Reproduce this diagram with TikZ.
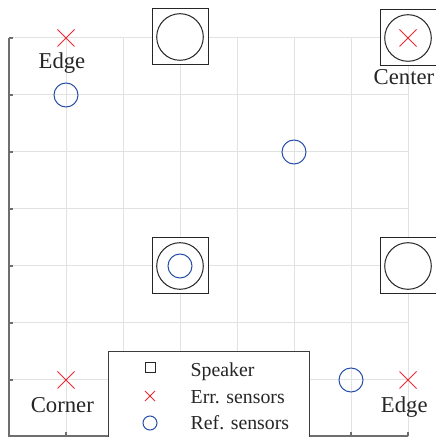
\documentclass[tikz,border=0pt]{standalone}
\usepackage{fontspec}
\setmainfont{Liberation Serif}
\definecolor{gridc}{RGB}{226,226,226}
\definecolor{axc}{RGB}{110,110,110}
\definecolor{errc}{RGB}{240,40,50}
\definecolor{refc}{RGB}{40,80,170}
\definecolor{spkc}{RGB}{38,38,38}
\definecolor{legc}{RGB}{60,60,60}
\tikzset{
  gridline/.style={draw=gridc, line width=1pt},
  axisline/.style={draw=axc, line width=1.2pt},
  lbl/.style={font=\fontsize{22.7}{27}\selectfont, text=black!85, inner sep=0pt, anchor=base},
  legtxt/.style={font=\fontsize{19.8}{24}\selectfont, text=black!85, inner sep=0pt, anchor=base west},
  errline/.style={draw=errc, line width=0.9pt},
  refline/.style={draw=refc, line width=1pt},
  spkline/.style={draw=spkc, line width=1pt},
}
\begin{document}
\begin{tikzpicture}
\useasboundingbox (0,0) rectangle (436pt,437pt);
\begin{scope}[x=1pt,y=-1pt,yshift=437pt]
% grid
\foreach \i in {0,...,7} {
  \draw[gridline] (9+57*\i,38) -- (9+57*\i,437);
  \draw[gridline] (9,38+57*\i) -- (408,38+57*\i);
}
% axes
\draw[axisline] (9,38) -- (9,436) -- (408,436);
\foreach \i in {0,...,6} \draw[axisline] (9,38+57*\i) -- (13,38+57*\i);
\foreach \i in {1,...,7} \draw[axisline] (9+57*\i,436) -- (9+57*\i,432);
% speakers
\foreach \sx/\sy in {180/37, 408/38, 180/266, 408/266} {
  \fill[white] (\sx-28,\sy-28) rectangle (\sx+28,\sy+28);
  \draw[spkline] (\sx-28,\sy-28) -- (\sx+28,\sy-28) -- (\sx+28,\sy+28) -- (\sx-28,\sy+28) -- cycle;
  \draw[spkline] (\sx,\sy) circle (23.3pt);
}
% error sensors
\foreach \ex/\ey in {66/38, 408/38, 66/380, 408/380} {
  \draw[errline] (\ex-8.5,\ey-8.5) -- (\ex+8.5,\ey+8.5) (\ex-8.5,\ey+8.5) -- (\ex+8.5,\ey-8.5);
}
% reference sensors
\foreach \rx/\ry in {66/95, 294/152, 180/266, 351/380} {
  \draw[refline] (\rx,\ry) circle (12pt);
}
% labels
\node[lbl] (edgetl) at (62,69) {Edge};
\node[lbl] (center) at (404,85) {Center};
\node[lbl] (corner) at (62.3,412.7) {Corner};
\node[lbl] (edgebr) at (404.3,412.7) {Edge};
% legend
\fill[white] (108.5,352) rectangle (309,437);
\draw[draw=legc, line width=1pt] (108.5,440) -- (108.5,352) -- (309,352) -- (309,440);
\draw[spkline] (145,363) rectangle (155,373);
\draw[errline] (145,391) -- (155,401) (145,401) -- (155,391);
\draw[refline] (150,423) circle (7pt);
\node[legtxt] (lspk) at (190.5,377) {Speaker};
\node[legtxt] (lerr) at (190.5,403) {Err. sensors};
\node[legtxt] (lref) at (190.5,430) {Ref. sensors};
\end{scope}
\end{tikzpicture}
\end{document}
